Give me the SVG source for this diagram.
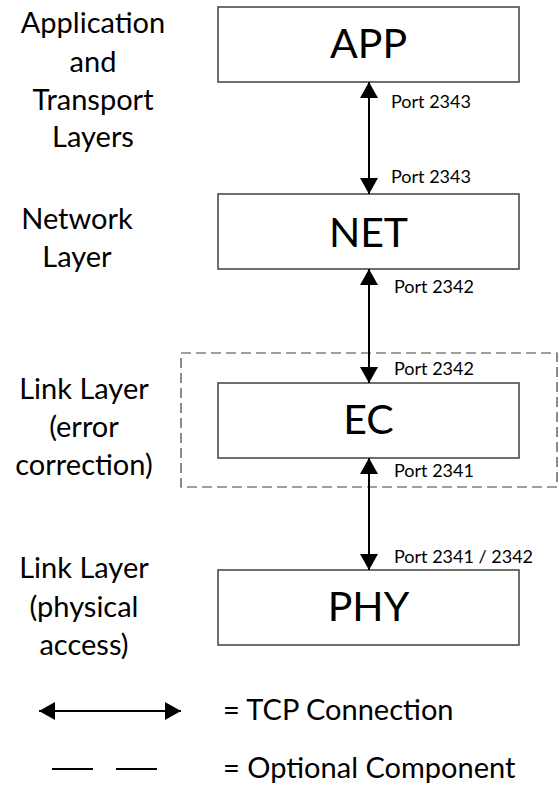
<svg xmlns="http://www.w3.org/2000/svg" width="559" height="796" viewBox="0 0 559 796">
<style>
.box{fill:#fff;stroke:#404040;stroke-width:1.5}
.big{font-family:Lato,"Open Sans",sans-serif;font-size:41px;fill:#000;text-anchor:middle}
.lbl{font-family:Lato,"Open Sans",sans-serif;font-size:29px;fill:#000;text-anchor:middle}
.leg{font-family:Lato,"Open Sans",sans-serif;font-size:29px;fill:#000}
.port{font-family:Lato,"Open Sans",sans-serif;font-size:18px;fill:#000}
.con{stroke:#000;stroke-width:2;fill:none;marker-start:url(#ah);marker-end:url(#ah)}
.opt{fill:none;stroke:#404040;stroke-width:1.2;stroke-dasharray:10,5}
</style>
<defs>
<marker id="ah" markerUnits="userSpaceOnUse" markerWidth="17" markerHeight="18" refX="16" refY="9" orient="auto-start-reverse" viewBox="0 0 17 18">
<path d="M0,0 L16,9 L0,18 z" fill="#000"/>
</marker>
</defs>
<g id="labels">
<text class="lbl" x="93" y="33">Application</text>
<text class="lbl" x="93" y="72">and</text>
<text class="lbl" x="93" y="110">Transport</text>
<text class="lbl" x="93" y="147">Layers</text>
<text class="lbl" x="77" y="229">Network</text>
<text class="lbl" x="77" y="267">Layer</text>
<text class="lbl" x="84" y="399">Link Layer</text>
<text class="lbl" x="84" y="437">(error</text>
<text class="lbl" x="84" y="475">correction)</text>
<text class="lbl" x="84" y="578">Link Layer</text>
<text class="lbl" x="84" y="617">(physical</text>
<text class="lbl" x="84" y="655">access)</text>
</g>
<g id="optional-group">
<rect class="opt" x="181" y="353" width="376" height="134"/>
</g>
<g id="app">
<rect class="box" x="218" y="7" width="301" height="75"/>
<text class="big" x="368.5" y="58">APP</text>
</g>
<g id="net">
<rect class="box" x="218" y="194" width="301" height="75"/>
<text class="big" x="368.5" y="247">NET</text>
</g>
<g id="ec">
<rect class="box" x="218" y="383" width="301" height="75"/>
<text class="big" x="368.5" y="434">EC</text>
</g>
<g id="phy">
<rect class="box" x="218" y="570" width="301" height="75"/>
<text class="big" x="368.5" y="621">PHY</text>
</g>
<g id="connectors">
<line class="con" x1="369" y1="82" x2="369" y2="194"/>
<line class="con" x1="369" y1="269" x2="369" y2="383"/>
<line class="con" x1="369" y1="458" x2="369" y2="570"/>
<text class="port" x="391" y="108">Port 2343</text>
<text class="port" x="391" y="183">Port 2343</text>
<text class="port" x="394" y="293">Port 2342</text>
<text class="port" x="394" y="375">Port 2342</text>
<text class="port" x="394" y="477">Port 2341</text>
<text class="port" x="394" y="563">Port 2341 / 2342</text>
</g>
<g id="legend">
<line class="con" x1="39" y1="711" x2="181" y2="711"/>
<text class="leg" x="223" y="720">= TCP Connection</text>
<line x1="52" y1="769" x2="93" y2="769" stroke="#000" stroke-width="2"/>
<line x1="116" y1="769" x2="157" y2="769" stroke="#000" stroke-width="2"/>
<text class="leg" x="223" y="778">= Optional Component</text>
</g>
</svg>
